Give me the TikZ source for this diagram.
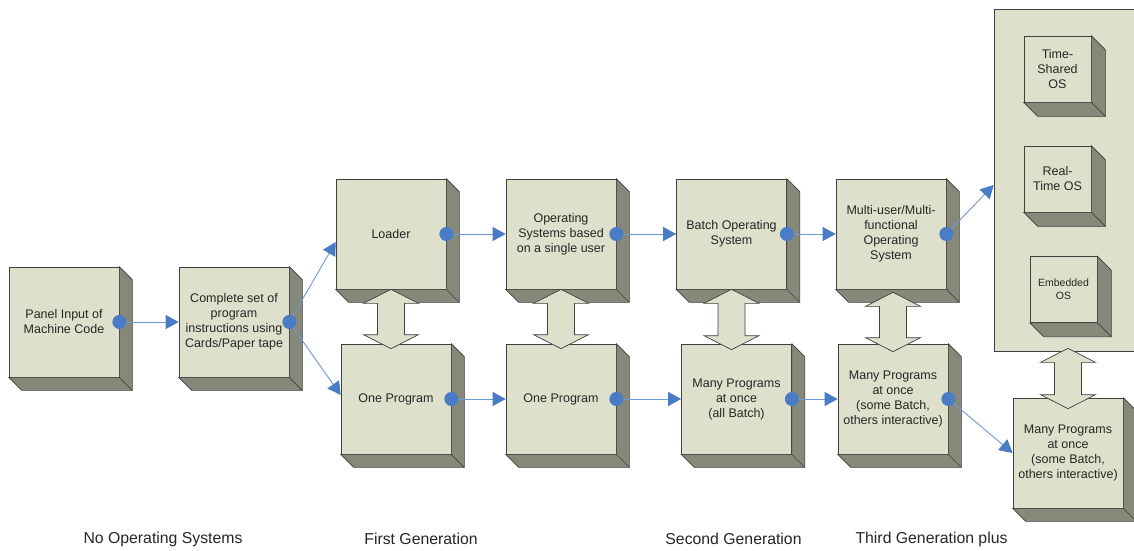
\documentclass[tikz,border=0pt]{standalone}
\usepackage{fontspec}
\setmainfont{Liberation Sans}
\usetikzlibrary{calc,arrows.meta}
\definecolor{face}{HTML}{DEE0CC}
\definecolor{sidec}{HTML}{86887A}
\definecolor{edge}{HTML}{404040}
\definecolor{dotblue}{HTML}{4A7CC6}
\definecolor{lineblue}{HTML}{7098D4}
\definecolor{inkgray}{HTML}{262626}

\tikzset{
  cube/.style={draw=edge, line width=0.7pt, fill=face, minimum width=110pt,
    minimum height=110pt, inner sep=0pt, align=center,
    font=\fontsize{12.5}{15}\selectfont, text=inkgray},
  smallcube/.style={cube, minimum width=67pt, minimum height=66pt},
  panel/.style={draw=edge, line width=0.7pt, fill=face, inner sep=0pt},
  sidefill/.style={fill=sidec, draw=edge, line width=0.7pt, line join=miter},
  twowaystyle/.style={draw=edge, line width=0.7pt, fill=face},
  link/.style={draw=lineblue, line width=0.9pt,
    -{Triangle[length=13pt,width=14pt,color=dotblue]}},
  era/.style={font=\fontsize{15.8}{18}\selectfont, text=inkgray},
}

% side and bottom faces of a block, #2 = depth
\newcommand\extrude[2]{%
  \filldraw[sidefill] (#1.north east) -- ++(#2,#2) -- ($(#1.south east)+(#2,#2)$)
    -- ($(#1.south west)+(#2,#2)$) -- (#1.south west) -- (#1.south east) -- cycle;
  \draw[edge, line width=0.7pt] (#1.south east) -- ++(#2,#2);}

% vertical two-headed block arrow between two tips
\newcommand\twoway[2]{%
  \path[twowaystyle] let \p1=#1, \p2=#2 in
    (\x1,\y1) -- (\x1+27.5pt,\y1-14pt) -- (\x1+13.5pt,\y1-14pt)
    -- (\x1+13.5pt,\y2+14pt) -- (\x1+27.5pt,\y2+14pt) -- (\x1,\y2)
    -- (\x1-27.5pt,\y2+14pt) -- (\x1-13.5pt,\y2+14pt)
    -- (\x1-13.5pt,\y1-14pt) -- (\x1-27.5pt,\y1-14pt) -- cycle;}

\newcommand\knob[1]{\fill[dotblue] (#1) circle (7pt);}

\begin{document}
\begin{tikzpicture}[x=1pt,y=-1pt]
\fill[white] (0,0) rectangle (1134,550);
\clip (0,0) rectangle (1134,550);

% right-hand panel with the OS families
\node[panel, minimum width=170pt, minimum height=342pt] (cont) at (1079,180) {};
\node[smallcube] (ts) at (1057.5,69) {Time-\\Shared\\OS};
\extrude{ts}{14}
\node[smallcube] (rt) at (1057.5,179) {Real-\\Time OS};
\extrude{rt}{14}
\node[smallcube, font=\fontsize{10.5}{13}\selectfont] (emb) at (1063.5,289.5) {Embedded\\OS};
\extrude{emb}{14}

% blocks
\node[cube] (A) at (64,322) {Panel Input of\\Machine Code};
\extrude{A}{13}
\node[cube] (B) at (234,322) {Complete set of\\program\\instructions using\\Cards/Paper tape};
\extrude{B}{13}
\node[cube] (C) at (391,234) {Loader};
\extrude{C}{13}
\node[cube] (D) at (561,234) {Operating\\Systems based\\on a single user};
\extrude{D}{13}
\node[cube] (E) at (731.5,234) {Batch Operating\\System};
\extrude{E}{13}
\node[cube] (F) at (891,234) {Multi-user/Multi-\\functional\\Operating\\System};
\extrude{F}{13}
\node[cube] (G) at (396,399) {One Program};
\extrude{G}{13}
\node[cube] (H) at (561,399) {One Program};
\extrude{H}{13}
\node[cube] (I) at (736.5,399) {Many Programs\\at once\\(all Batch)};
\extrude{I}{13}
\node[cube] (J) at (893,399) {Many Programs\\at once\\(some Batch,\\others interactive)};
\extrude{J}{13}
\node[cube] (K) at (1068,453) {Many Programs\\at once\\(some Batch,\\others interactive)};
\extrude{K}{13}

% two-way block arrows
\twoway{(C.south)}{([yshift=-5pt]G.north)}
\twoway{(D.south)}{([yshift=-5pt]H.north)}
\twoway{(E.south)}{([yshift=-6pt]I.north)}
\twoway{([yshift=-3pt]F.south -| J.north)}{([yshift=-8pt]J.north)}
\twoway{([yshift=3pt]K.north |- cont.south)}{([yshift=-11pt]K.north)}

% connectors
\draw[link] (A.east) -- (B.west);
\draw[link] (B.east) -- ([yshift=-8pt]C.west);
\draw[link] (B.east) -- ([yshift=4pt]G.west);
\draw[link] (C.east) -- (D.west);
\draw[link] (D.east) -- (E.west);
\draw[link] (E.east) -- (F.west);
\draw[link] (F.east) -- ([yshift=-5pt]cont.west);
\draw[link] (G.east) -- (H.west);
\draw[link] (H.east) -- (I.west);
\draw[link] (I.east) -- (J.west);
\draw[link] (J.east) -- (K.west);

\knob{A.east}\knob{B.east}\knob{C.east}\knob{D.east}\knob{E.east}
\knob{F.east}\knob{G.east}\knob{H.east}\knob{I.east}\knob{J.east}

% era captions
\node[era] (era0) at (163,539) {No Operating Systems};
\node[era] (era1) at (421,539) {First Generation};
\node[era] (era2) at (733.5,539) {Second Generation};
\node[era] (era3) at (931.5,539) {Third Generation plus};
\end{tikzpicture}
\end{document}
